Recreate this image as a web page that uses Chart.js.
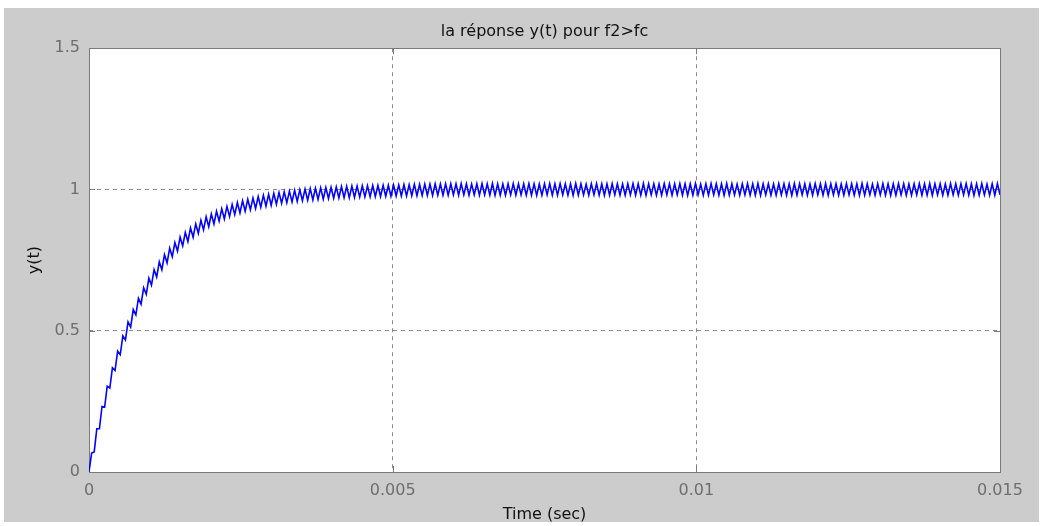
<!DOCTYPE html>
<html>
<head>
<meta charset="utf-8">
<script src="https://cdn.jsdelivr.net/npm/chart.js@4/dist/chart.umd.min.js"></script>
<style>
  html, body { margin: 0; padding: 0; background: #fff; }
</style>
</head>
<body>
<canvas id="myChart" width="1044" height="526"></canvas>
<script>
// time span of the simulation (sec), samples are evenly spaced over it
var tStart = 0;
var tEnd = 0.015;

// y(t), peak / trough of each ripple
var responseY = [
  0, 0.067, 0.071, 0.153, 0.153, 0.232, 0.229, 0.304, 0.297, 0.369,
  0.359, 0.428, 0.415, 0.482, 0.467, 0.531, 0.513, 0.575, 0.556, 0.615,
  0.594, 0.652, 0.629, 0.686, 0.661, 0.716, 0.690, 0.744, 0.716, 0.769,
  0.740, 0.792, 0.762, 0.812, 0.782, 0.831, 0.800, 0.848, 0.816, 0.864,
  0.831, 0.878, 0.845, 0.891, 0.857, 0.903, 0.868, 0.913, 0.878, 0.923,
  0.888, 0.932, 0.896, 0.940, 0.904, 0.947, 0.911, 0.954, 0.917, 0.960,
  0.923, 0.965, 0.928, 0.970, 0.933, 0.975, 0.937, 0.979, 0.941, 0.983,
  0.944, 0.986, 0.948, 0.989, 0.951, 0.992, 0.953, 0.994, 0.956, 0.997,
  0.958, 0.999, 0.960, 1.001, 0.962, 1.003, 0.963, 1.004, 0.965, 1.006,
  0.966, 1.007, 0.968, 1.008, 0.969, 1.009, 0.970, 1.010, 0.971, 1.011,
  0.971, 1.012, 0.972, 1.012, 0.973, 1.013, 0.974, 1.013, 0.974, 1.014,
  0.975, 1.014, 0.975, 1.015, 0.976, 1.015, 0.976, 1.016, 0.977, 1.016,
  0.977, 1.017, 0.977, 1.017, 0.978, 1.018, 0.978, 1.018, 0.979, 1.019,
  0.979, 1.019, 0.979, 1.020, 0.980, 1.019, 0.980, 1.020, 0.980, 1.020,
  0.981, 1.020, 0.980, 1.021, 0.981, 1.020, 0.980, 1.019, 0.981, 1.020,
  0.980, 1.021, 0.981, 1.020, 0.980, 1.021, 0.979, 1.020, 0.980, 1.019,
  0.980, 1.020, 0.981, 1.021, 0.980, 1.020, 0.981, 1.020, 0.980, 1.021,
  0.980, 1.020, 0.979, 1.019, 0.980, 1.020, 0.981, 1.021, 0.980, 1.020,
  0.980, 1.021, 0.981, 1.020, 0.980, 1.020, 0.979, 1.021, 0.980, 1.020,
  0.981, 1.019, 0.980, 1.020, 0.981, 1.021, 0.980, 1.020, 0.979, 1.020,
  0.980, 1.021, 0.981, 1.020, 0.980, 1.019, 0.980, 1.020, 0.981, 1.021,
  0.980, 1.020, 0.980, 1.021, 0.979, 1.020, 0.981, 1.020, 0.980, 1.019,
  0.980, 1.021, 0.981, 1.020, 0.980, 1.020, 0.981, 1.021, 0.980, 1.020,
  0.979, 1.020, 0.980, 1.021, 0.981, 1.019, 0.980, 1.020, 0.980, 1.021,
  0.981, 1.020, 0.980, 1.020, 0.979, 1.021, 0.980, 1.020, 0.981, 1.019,
  0.980, 1.020, 0.981, 1.021, 0.980, 1.020, 0.980, 1.021, 0.979, 1.020,
  0.981, 1.020, 0.980, 1.019, 0.980, 1.021, 0.981, 1.020, 0.980, 1.020,
  0.979, 1.021, 0.980, 1.020, 0.981, 1.020, 0.980, 1.019, 0.980, 1.021,
  0.981, 1.020, 0.980, 1.021, 0.979, 1.020, 0.981, 1.020, 0.980, 1.019,
  0.980, 1.021, 0.981, 1.020, 0.980, 1.020, 0.979, 1.021, 0.980, 1.020,
  0.981, 1.019, 0.980, 1.020, 0.981, 1.021, 0.980, 1.020, 0.979, 1.020,
  0.980, 1.021, 0.981, 1.020, 0.980, 1.019, 0.980, 1.020, 0.981, 1.021,
  0.980, 1.020, 0.980, 1.021, 0.979, 1.020, 0.981, 1.020, 0.980, 1.019,
  0.980, 1.021, 0.981, 1.020, 0.980, 1.020, 0.981, 1.021, 0.980, 1.020,
  0.979, 1.020, 0.980, 1.021, 0.981, 1.019, 0.980, 1.020, 0.980, 1.021,
  0.981
];

var xTicks = [0, 0.005, 0.01, 0.015];
var xTickLabels = ['0', '0.005', '0.01', '0.015'];
var yTicks = [0, 0.5, 1, 1.5];
var yTickLabels = ['0', '0.5', '1', '1.5'];

var points = responseY.map(function (y, i) {
  return { x: tStart + i * (tEnd - tStart) / (responseY.length - 1), y: y };
});

var fontFamily = '"DejaVu Sans", sans-serif';

// gray figure background, white axes box, inward ticks
var matlabFrame = {
  id: 'matlabFrame',
  beforeDraw: function (chart) {
    var c = chart.ctx, a = chart.chartArea;
    c.save();
    c.fillStyle = '#ffffff';
    c.fillRect(0, 0, chart.width, chart.height);
    c.fillStyle = '#cccccc';
    c.fillRect(4, 8, 1035, 514);
    c.fillStyle = '#ffffff';
    c.fillRect(a.left, a.top, a.right - a.left, a.bottom - a.top);
    c.restore();
  },
  beforeDatasetsDraw: function (chart) {
    var c = chart.ctx, a = chart.chartArea;
    var xs = chart.scales.x, ys = chart.scales.y;
    c.save();
    c.strokeStyle = '#7a7a7a';
    c.lineWidth = 1;
    c.beginPath();
    xTicks.forEach(function (v) {
      var px = Math.round(xs.getPixelForValue(v)) + 0.5;
      c.moveTo(px, a.bottom); c.lineTo(px, a.bottom - 6);
      c.moveTo(px, a.top); c.lineTo(px, a.top + 6);
    });
    yTicks.forEach(function (v) {
      var py = Math.round(ys.getPixelForValue(v)) + 0.5;
      c.moveTo(a.left, py); c.lineTo(a.left + 6, py);
      c.moveTo(a.right, py); c.lineTo(a.right - 6, py);
    });
    c.stroke();
    c.strokeRect(Math.round(a.left) + 0.5, Math.round(a.top) + 0.5,
      Math.round(a.right - a.left), Math.round(a.bottom - a.top));
    c.restore();
  }
};

var ctx = document.getElementById('myChart');

var myChart = new Chart(ctx, {
  type: 'line',
  data: {
    datasets: [
      {
        label: 'y(t)',
        data: points,
        borderColor: '#0000ff',
        borderWidth: 1.6,
        pointRadius: 0,
        tension: 0,
        fill: false
      }
    ]
  },
  options: {
    responsive: false,
    animation: false,
    layout: { padding: { left: 0, right: 44, top: 0, bottom: 0 } },
    plugins: {
      legend: { display: false },
      tooltip: { enabled: false },
      title: {
        display: true,
        fullSize: false,
        text: 'la réponse y(t) pour f2>fc',
        color: '#111111',
        font: { family: fontFamily, size: 16, weight: 'normal', lineHeight: 1.2 },
        padding: { top: 22, bottom: 7 }
      }
    },
    scales: {
      x: {
        type: 'linear',
        min: 0,
        max: 0.015,
        afterBuildTicks: function (s) {
          s.ticks = xTicks.map(function (v) { return { value: v }; });
        },
        afterFit: function (s) { s.height = 54; },
        ticks: {
          color: '#6e6e6e',
          padding: 9,
          maxRotation: 0,
          font: { family: fontFamily, size: 16 },
          callback: function (v, i) { return xTickLabels[i]; }
        },
        grid: { color: '#8c8c8c', lineWidth: 1, drawTicks: false },
        border: { display: false, dash: [4, 4] },
        title: {
          display: true,
          text: 'Time (sec)',
          color: '#111111',
          font: { family: fontFamily, size: 16, lineHeight: 1.2 },
          padding: { top: 0, bottom: 2 }
        }
      },
      y: {
        min: 0,
        max: 1.5,
        afterBuildTicks: function (s) {
          s.ticks = yTicks.map(function (v) { return { value: v }; });
        },
        afterFit: function (s) { s.width = 89; },
        ticks: {
          color: '#6e6e6e',
          padding: 9,
          font: { family: fontFamily, size: 16 },
          callback: function (v, i) { return yTickLabels[i]; }
        },
        grid: { color: '#8c8c8c', lineWidth: 1, drawTicks: false },
        border: { display: false, dash: [4, 4] },
        title: {
          display: true,
          text: 'y(t)',
          color: '#111111',
          font: { family: fontFamily, size: 16, lineHeight: 1.2 },
          padding: { top: 25, bottom: 0 }
        }
      }
    }
  },
  plugins: [matlabFrame]
});
</script>
</body>
</html>
